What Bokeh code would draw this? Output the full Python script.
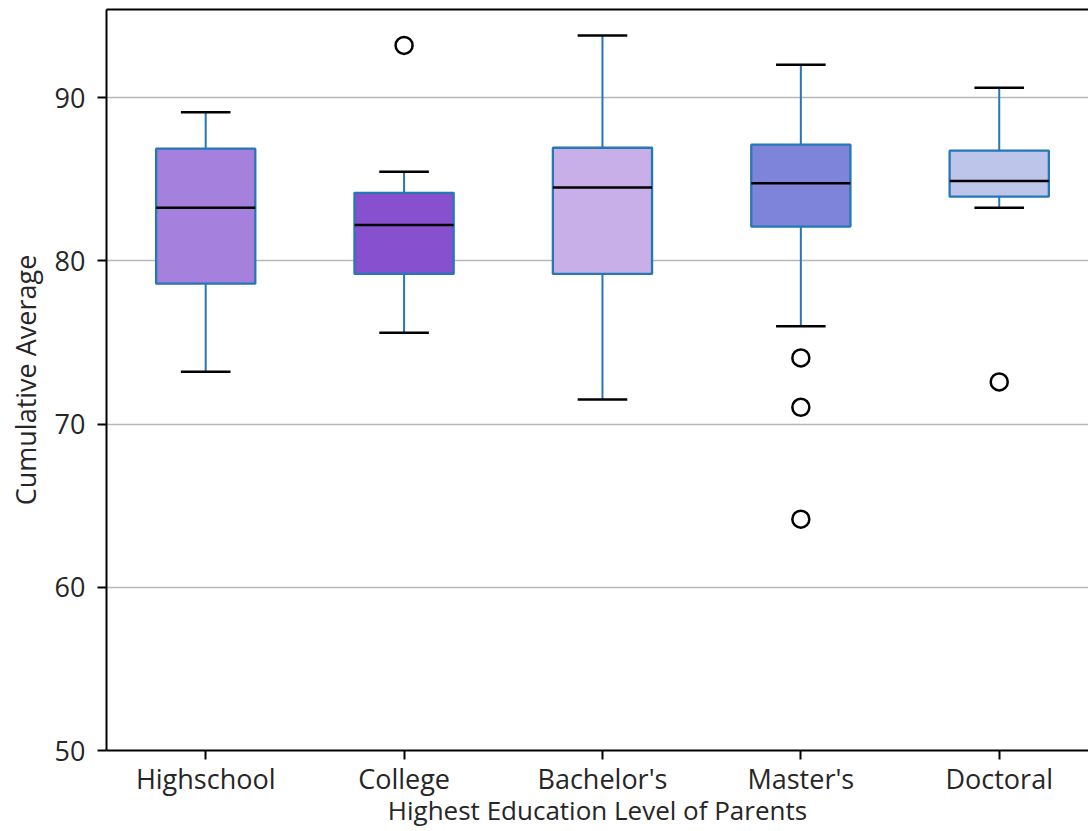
from bokeh.plotting import figure
from bokeh.models import FixedTicker, LinearAxis, Range1d, ColumnDataSource
from bokeh.embed import file_html
from bokeh.resources import INLINE

categories = ["Highschool", "College", "Bachelor's", "Master's", "Doctoral"]
whisker_low = [73.2, 75.6, 71.5, 76.0, 83.25]
q1 = [78.6, 79.2, 79.2, 82.1, 83.93]
median = [83.25, 82.2, 84.5, 84.75, 84.9]
q3 = [86.87, 84.17, 86.93, 87.12, 86.75]
whisker_high = [89.1, 85.46, 93.8, 92.02, 90.6]
outlier_cat = ["College", "Master's", "Master's", "Master's", "Doctoral"]
outlier_val = [93.2, 74.05, 71.03, 64.17, 72.58]
box_colors = ["#a580dc", "#8650cf", "#c8afe8", "#7e84da", "#bdc5eb"]
x_label = "Highest Education Level of Parents"
y_label = "Cumulative Average"

FONT = "Open Sans"
TEXT = "#262626"
FS = "27px"

xs = [i + 1 for i in range(len(categories))]
src = ColumnDataSource(dict(x=xs, lo=whisker_low, q1=q1, med=median, q3=q3,
                            hi=whisker_high, color=box_colors))
osrc = ColumnDataSource(dict(x=[categories.index(c) + 1 for c in outlier_cat], y=outlier_val))

p = figure(width=1088, height=831, output_backend="svg", toolbar_location=None,
           x_range=Range1d(0.5, 5.45), y_range=Range1d(50, 95.4),
           min_border_left=106, min_border_right=0, min_border_top=9, min_border_bottom=81)
p.outline_line_color = None
p.background_fill_color = "white"

bw = 0.5
cw = 0.25
BLUE = "#2677b5"
# whiskers
p.segment(x0="x", y0="q3", x1="x", y1="hi", source=src, line_color=BLUE, line_width=2)
p.segment(x0="x", y0="q1", x1="x", y1="lo", source=src, line_color=BLUE, line_width=2)
# boxes
p.vbar(x="x", width=bw, bottom="q1", top="q3", source=src, fill_color="color",
       line_color=BLUE, line_width=2.3)
# caps
src.data["cl"] = [x - cw / 2 for x in xs]
src.data["cr"] = [x + cw / 2 for x in xs]
src.data["bl"] = [x - bw / 2 for x in xs]
src.data["br"] = [x + bw / 2 for x in xs]
p.segment(x0="cl", y0="hi", x1="cr", y1="hi", source=src, line_color="black", line_width=2.5)
p.segment(x0="cl", y0="lo", x1="cr", y1="lo", source=src, line_color="black", line_width=2.5)
# medians
p.segment(x0="bl", y0="med", x1="br", y1="med", source=src, line_color="black", line_width=2.5)
# outliers
p.scatter(x="x", y="y", source=osrc, marker="circle", size=17, fill_color=None,
          line_color="black", line_width=2.5)

p.xgrid.grid_line_color = None
p.ygrid.grid_line_color = "#b8b8b8"
p.ygrid.grid_line_width = 1.5

p.xaxis.ticker = FixedTicker(ticks=xs)
p.xaxis.major_label_overrides = {x: c for x, c in zip(xs, categories)}
p.yaxis.ticker = FixedTicker(ticks=[50, 60, 70, 80, 90])
p.xaxis.axis_label = x_label
p.yaxis.axis_label = y_label

for ax in (p.xaxis[0], p.yaxis[0]):
    ax.axis_line_width = 2
    ax.axis_line_color = "black"
    ax.major_tick_line_width = 2
    ax.major_tick_line_color = "black"
    ax.major_tick_out = 9
    ax.major_tick_in = 0
    ax.minor_tick_line_color = None
    ax.major_label_text_font = FONT
    ax.major_label_text_font_size = FS
    ax.major_label_text_color = TEXT
    ax.axis_label_text_font = FONT
    ax.axis_label_text_font_size = FS
    ax.axis_label_text_font_style = "normal"
    ax.axis_label_text_color = TEXT

p.xaxis.major_label_standoff = 0
p.xaxis.axis_label_standoff = -8
p.xaxis.axis_label_text_font_size = "26px"
p.yaxis.major_label_standoff = 12
p.yaxis.axis_label_standoff = 8

top = LinearAxis(ticker=FixedTicker(ticks=[]), axis_line_width=2, axis_line_color="black",
                 major_tick_line_color=None, minor_tick_line_color=None,
                 major_label_text_font_size="0px")
p.add_layout(top, "above")

open("out.html", "w").write(file_html(p, INLINE))
